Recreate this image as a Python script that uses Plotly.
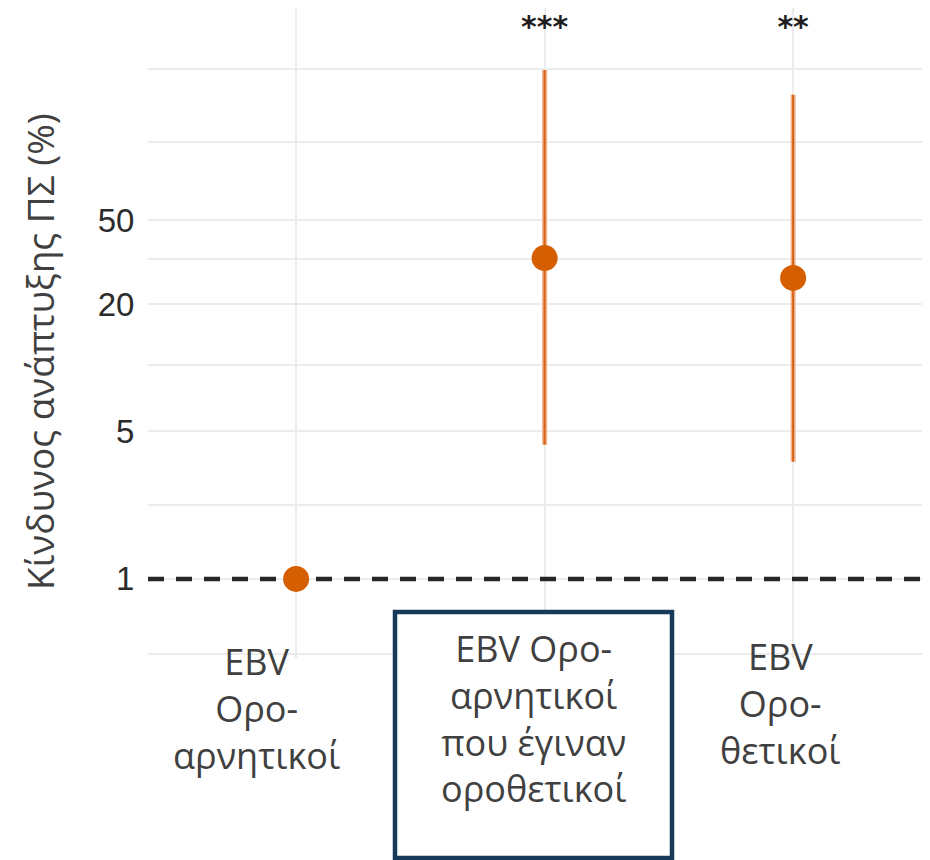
import plotly.graph_objects as go

# ---- data ----
categories = [1, 2, 3]
estimates = [1.0, 33.2, 26.7]
ci_lower = [1.0, 4.32, 3.59]
ci_upper = [1.0, 258.0, 197.0]
sig_labels = ["", "***", "**"]
sig_y = [400, 400, 400]
reference_level = 1
x_labels = ["EBV<br>Ορο-<br>αρνητικοί",
            "EBV Ορο-<br>αρνητικοί<br>που έγιναν<br>οροθετικοί",
            "EBV<br>Ορο-<br>θετικοί"]
y_grid_vals = [0.44, 2.23, 5, 10.3, 20, 33, 50, 118, 262]
y_tick_vals = [1, 5, 20, 50]
y_tick_text = ["1", "5", "20", "50"]
y_title = "Κίνδυνος ανάπτυξης ΠΣ (%)"

err_plus = [u - e for u, e in zip(ci_upper, estimates)]
err_minus = [e - l for e, l in zip(estimates, ci_lower)]

W, H = 930, 860
OFF = 8  # page offset of the figure
L, R, T, B = 140, 0, 0, 210
PW, PH = W - L - R, H - T - B
X_RANGE = [0.404, 3.583]
Y_RANGE_LOG = [-0.375, 2.706]

def px_x(px):
    return (px - OFF - L) / PW

def px_y(py):
    return (H - B - (py - OFF)) / PH

fig = go.Figure()

# dashed reference line (drawn first so the point covers it)
fig.add_trace(go.Scatter(
    x=X_RANGE, y=[reference_level, reference_level], mode="lines",
    line=dict(color="#262626", width=4.5, dash="16px,12px"), hoverinfo="skip"))
# halo of error bars
fig.add_trace(go.Scatter(
    x=categories, y=estimates, mode="markers",
    marker=dict(size=1, color="rgba(0,0,0,0)"),
    error_y=dict(type="data", symmetric=False, array=err_plus, arrayminus=err_minus,
                 color="#efb48a", thickness=5, width=0),
    hoverinfo="skip"))
# core error bars + points
fig.add_trace(go.Scatter(
    x=categories, y=estimates, mode="markers",
    marker=dict(size=26, color="#d55e00"),
    error_y=dict(type="data", symmetric=False, array=err_plus, arrayminus=err_minus,
                 color="#d8641a", thickness=2, width=0)))
# significance stars
fig.add_trace(go.Scatter(
    x=categories, y=sig_y, mode="text", text=sig_labels,
    textposition="middle center", cliponaxis=False,
    textfont=dict(family="DejaVu Sans", size=30, color="#1e1e1e", weight="bold")))

# box around middle label
fig.add_shape(type="rect", xref="paper", yref="paper",
              x0=px_x(395), x1=px_x(672), y0=px_y(858), y1=px_y(612),
              line=dict(color="#163a57", width=4.5), fillcolor="white", layer="above")

label_x = [256, 533, 780]
label_y = [709, 718, 703]
for t, lx, ly in zip(x_labels, label_x, label_y):
    fig.add_annotation(text=t, xref="paper", yref="paper", x=px_x(lx), y=px_y(ly),
                       xanchor="center", yanchor="middle", showarrow=False,
                       font=dict(family="Open Sans", size=36, color="#404040"))

fig.add_annotation(text=y_title, xref="paper", yref="paper", x=px_x(40), y=px_y(352),
                   textangle=-90, xanchor="center", yanchor="middle", showarrow=False,
                   font=dict(family="Open Sans", size=37, color="#404040"))

fig.update_xaxes(range=X_RANGE, tickvals=categories, showticklabels=False,
                 showgrid=True, gridcolor="#ececec", gridwidth=2, zeroline=False,
                 showline=False, ticks="")
fig.update_yaxes(type="log", range=Y_RANGE_LOG, tickvals=y_tick_vals, ticktext=y_tick_text,
                 showgrid=True, gridcolor="#ececec", gridwidth=2, zeroline=False,
                 showline=False, ticks="outside", ticklen=6, tickcolor="rgba(0,0,0,0)",
                 tickfont=dict(family="Liberation Sans", size=33, color="#2b2b2b"),
                 minor=dict(tickvals=y_grid_vals, showgrid=True, gridcolor="#ececec",
                            gridwidth=2, ticks=""))

fig.update_layout(width=W, height=H, plot_bgcolor="white", paper_bgcolor="white",
                  showlegend=False, margin=dict(l=L, r=R, t=T, b=B, pad=0))

fig.write_html("out.html")
